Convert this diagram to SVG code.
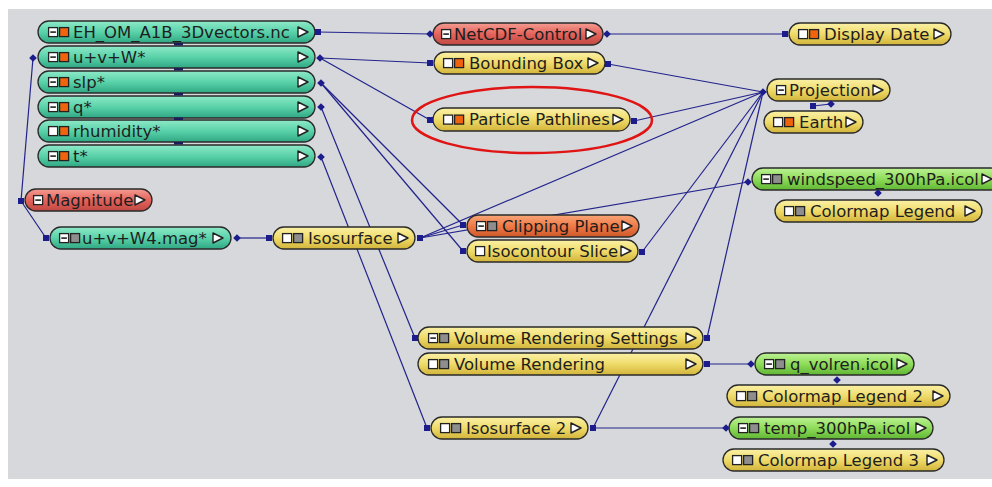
<svg xmlns="http://www.w3.org/2000/svg" xmlns:xlink="http://www.w3.org/1999/xlink" width="992" height="487" viewBox="0 0 992 487">
<defs>
<linearGradient id="gTeal" x1="0" y1="0" x2="0" y2="1"><stop offset="0" stop-color="#8ee9c9"/><stop offset="0.5" stop-color="#5ad2a9"/><stop offset="1" stop-color="#2fa783"/></linearGradient>
<linearGradient id="gYel" x1="0" y1="0" x2="0" y2="1"><stop offset="0" stop-color="#fbf1a6"/><stop offset="0.5" stop-color="#efdb6a"/><stop offset="1" stop-color="#d2b43a"/></linearGradient>
<linearGradient id="gRed" x1="0" y1="0" x2="0" y2="1"><stop offset="0" stop-color="#f49c92"/><stop offset="0.5" stop-color="#e4645c"/><stop offset="1" stop-color="#c04842"/></linearGradient>
<linearGradient id="gOra" x1="0" y1="0" x2="0" y2="1"><stop offset="0" stop-color="#f9a678"/><stop offset="0.5" stop-color="#ef7a46"/><stop offset="1" stop-color="#cf582a"/></linearGradient>
<linearGradient id="gGrn" x1="0" y1="0" x2="0" y2="1"><stop offset="0" stop-color="#bdf294"/><stop offset="0.5" stop-color="#8edc5a"/><stop offset="1" stop-color="#60b633"/></linearGradient>
<g id="icMin"><rect x="0.6" y="0.6" width="9" height="9" fill="#fff" stroke="#222" stroke-width="1.3"/><line x1="2.3" y1="5.1" x2="7.9" y2="5.1" stroke="#222" stroke-width="1.6"/></g>
<g id="icEmp"><rect x="0.6" y="0.6" width="9" height="9" fill="#fff" stroke="#222" stroke-width="1.3"/></g>
<g id="icOrg"><rect x="0.6" y="0.6" width="9" height="9" fill="#f0640e" stroke="#222" stroke-width="1.3"/></g>
<g id="icGry"><rect x="0.6" y="0.6" width="9" height="9" fill="#8e8e8e" stroke="#222" stroke-width="1.3"/></g>
<path id="tri" d="M0,-5 L10,0 L0,5 Z" fill="#fff" stroke="#222" stroke-width="1.4" stroke-linejoin="round"/>
<rect id="pSq" x="-3" y="-3" width="6" height="6" fill="#1c1c8c"/>
<path id="pDi" d="M0,-3.8 L3.8,0 L0,3.8 L-3.8,0 Z" fill="#1c1c8c"/>
</defs>
<style>
.body{stroke:#2a2a2a;stroke-width:1.3}
.teal .body{fill:url(#gTeal)}
.yel .body{fill:url(#gYel)}
.red .body{fill:url(#gRed)}
.ora .body{fill:url(#gOra)}
.grn .body{fill:url(#gGrn)}
.lbl{font-family:"DejaVu Sans","Liberation Sans",sans-serif;font-size:16.5px;fill:#1e1e1e}
.wire line{stroke:#23238c;stroke-width:1.2;fill:none}
.bar{fill:#1c1c5a}
</style>
<rect x="0" y="0" width="992" height="487" fill="#ffffff"/>
<rect x="8" y="9" width="984" height="470" fill="#d6d8db"/>

<g id="connectors" class="wire">
<line x1="318" y1="32" x2="430" y2="34"/>
<line x1="607" y1="34" x2="785" y2="34"/>
<line x1="320" y1="58" x2="430" y2="63"/>
<line x1="320" y1="58" x2="430" y2="120"/>
<line x1="321" y1="83" x2="463" y2="225"/>
<line x1="321" y1="83" x2="463" y2="251"/>
<line x1="321" y1="107" x2="415" y2="338"/>
<line x1="321" y1="157" x2="427" y2="428"/>
<line x1="33" y1="58" x2="21" y2="201"/>
<line x1="21" y1="201" x2="46" y2="238"/>
<line x1="237" y1="238" x2="269" y2="238"/>
<line x1="420" y1="238" x2="463" y2="225"/>
<line x1="420" y1="238" x2="763" y2="92"/>
<line x1="420" y1="238" x2="748" y2="182"/>
<line x1="608" y1="64" x2="763" y2="92"/>
<line x1="634" y1="121" x2="763" y2="92"/>
<line x1="642" y1="252" x2="763" y2="92"/>
<line x1="707" y1="338" x2="763" y2="92"/>
<line x1="593" y1="428" x2="763" y2="92"/>
<line x1="707" y1="364" x2="751" y2="364"/>
<line x1="593" y1="428" x2="726" y2="428"/>
<line x1="813" y1="106" x2="831" y2="104"/>
</g>

<g id="n-eh" class="teal"><rect class="body" x="38" y="21" width="277" height="22" rx="11"/><use href="#icMin" x="48" y="27"/><use href="#icOrg" x="59" y="27"/><text class="lbl" x="73" y="37.5">EH_OM_A1B_3Dvectors.nc</text><use href="#tri" x="298" y="32"/></g>
<g id="n-uvw" class="teal"><rect class="body" x="38" y="46" width="277" height="22" rx="11"/><use href="#icMin" x="48" y="52"/><use href="#icOrg" x="59" y="52"/><text class="lbl" x="73" y="62.5">u+v+W*</text><use href="#tri" x="298" y="57"/></g>
<g id="n-slp" class="teal"><rect class="body" x="38" y="71" width="277" height="22" rx="11"/><use href="#icMin" x="48" y="77"/><use href="#icOrg" x="59" y="77"/><text class="lbl" x="73" y="87.5">slp*</text><use href="#tri" x="298" y="82"/></g>
<g id="n-q" class="teal"><rect class="body" x="38" y="96" width="277" height="22" rx="11"/><use href="#icMin" x="48" y="102"/><use href="#icOrg" x="59" y="102"/><text class="lbl" x="73" y="112.5">q*</text><use href="#tri" x="298" y="107"/></g>
<g id="n-rh" class="teal"><rect class="body" x="38" y="120" width="277" height="22" rx="11"/><use href="#icEmp" x="48" y="126"/><use href="#icOrg" x="59" y="126"/><text class="lbl" x="73" y="136.5">rhumidity*</text><use href="#tri" x="298" y="131"/></g>
<g id="n-t" class="teal"><rect class="body" x="38" y="145" width="277" height="22" rx="11"/><use href="#icMin" x="48" y="151"/><use href="#icOrg" x="59" y="151"/><text class="lbl" x="73" y="161.5">t*</text><use href="#tri" x="298" y="156"/></g>
<g id="stack-bars"><rect class="bar" x="174" y="43" width="9" height="2.5"/><rect class="bar" x="174" y="68" width="9" height="2.5"/><rect class="bar" x="174" y="93" width="9" height="2.5"/><rect class="bar" x="174" y="117.5" width="9" height="2.5"/><rect class="bar" x="174" y="142" width="9" height="2.5"/></g>

<g id="n-mag" class="red"><rect class="body" x="25" y="189" width="127" height="22" rx="11"/><use href="#icMin" x="33" y="195"/><text class="lbl" x="46" y="205.5">Magnitude</text><use href="#tri" x="135" y="200"/></g>
<g id="n-uvwmag" class="teal"><rect class="body" x="50" y="227" width="181" height="22" rx="11"/><use href="#icMin" x="59" y="233"/><use href="#icGry" x="70" y="233"/><text class="lbl" x="82" y="243.5">u+v+W4.mag*</text><use href="#tri" x="213" y="238"/></g>
<g id="n-iso" class="yel"><rect class="body" x="273" y="227" width="142" height="22" rx="11"/><use href="#icEmp" x="282" y="233"/><use href="#icGry" x="293" y="233"/><text class="lbl" x="308" y="243.5">Isosurface</text><use href="#tri" x="398" y="238"/></g>

<g id="n-netcdf" class="red"><rect class="body" x="433" y="23" width="170" height="22" rx="11"/><use href="#icMin" x="441" y="29"/><text class="lbl" x="454" y="39.5">NetCDF-Control</text><use href="#tri" x="586" y="34"/></g>
<g id="n-bbox" class="yel"><rect class="body" x="434" y="52" width="171" height="22" rx="11"/><use href="#icEmp" x="443" y="58"/><use href="#icOrg" x="454" y="58"/><text class="lbl" x="469" y="68.5">Bounding Box</text><use href="#tri" x="588" y="63"/></g>
<g id="n-pp" class="yel"><rect class="body" x="433" y="108" width="197" height="23" rx="11.5"/><use href="#icEmp" x="443" y="114.5"/><use href="#icOrg" x="454" y="114.5"/><text class="lbl" x="469" y="125">Particle Pathlines</text><use href="#tri" x="613" y="119.5"/></g>
<g id="n-clip" class="ora"><rect class="body" x="467" y="215" width="172" height="22" rx="11"/><use href="#icMin" x="476" y="221"/><use href="#icGry" x="487" y="221"/><text class="lbl" x="502" y="231.5">Clipping Plane</text><use href="#tri" x="622" y="226"/></g>
<g id="n-isoc" class="yel"><rect class="body" x="467" y="240" width="171" height="22" rx="11"/><use href="#icEmp" x="475" y="246"/><text class="lbl" x="487" y="256.5">Isocontour Slice</text><use href="#tri" x="621" y="251"/></g>
<g id="n-vrs" class="yel"><rect class="body" x="418" y="327" width="285" height="22" rx="11"/><use href="#icMin" x="428" y="333"/><use href="#icGry" x="439" y="333"/><text class="lbl" x="454" y="343.5">Volume Rendering Settings</text><use href="#tri" x="686" y="338"/></g>
<g id="n-vr" class="yel"><rect class="body" x="418" y="353" width="285" height="22" rx="11"/><use href="#icEmp" x="428" y="359"/><use href="#icGry" x="439" y="359"/><text class="lbl" x="454" y="369.5">Volume Rendering</text><use href="#tri" x="686" y="364"/></g>
<g id="n-iso2" class="yel"><rect class="body" x="431" y="417" width="157" height="22" rx="11"/><use href="#icEmp" x="440" y="423"/><use href="#icGry" x="451" y="423"/><text class="lbl" x="466" y="433.5">Isosurface 2</text><use href="#tri" x="571" y="428"/></g>

<g id="n-date" class="yel"><rect class="body" x="789" y="23" width="162" height="22" rx="11"/><use href="#icEmp" x="798" y="29"/><use href="#icOrg" x="809" y="29"/><text class="lbl" x="824" y="39.5">Display Date</text><use href="#tri" x="934" y="34"/></g>
<g id="n-proj" class="yel"><rect class="body" x="767" y="79" width="123" height="22" rx="11"/><use href="#icMin" x="776" y="85"/><text class="lbl" x="789" y="95.5">Projection</text><use href="#tri" x="873" y="90"/></g>
<g id="n-earth" class="yel"><rect class="body" x="764" y="111" width="99" height="22" rx="11"/><use href="#icEmp" x="773" y="117"/><use href="#icOrg" x="784" y="117"/><text class="lbl" x="799" y="127.5">Earth</text><use href="#tri" x="846" y="122"/></g>
<g id="n-wind" class="grn"><rect class="body" x="752" y="168" width="250" height="22" rx="11"/><use href="#icMin" x="761" y="174"/><use href="#icGry" x="772" y="174"/><text class="lbl" x="787" y="184.5">windspeed_300hPa.icol</text><use href="#tri" x="982" y="179"/></g>
<g id="n-cl1" class="yel"><rect class="body" x="775" y="200" width="207" height="22" rx="11"/><use href="#icEmp" x="784" y="206"/><use href="#icGry" x="795" y="206"/><text class="lbl" x="810" y="216.5">Colormap Legend</text><use href="#tri" x="965" y="211"/></g>
<g id="n-qvol" class="grn"><rect class="body" x="755" y="353" width="159" height="22" rx="11"/><use href="#icMin" x="764" y="359"/><use href="#icGry" x="775" y="359"/><text class="lbl" x="790" y="369.5">q_volren.icol</text><use href="#tri" x="897" y="364"/></g>
<g id="n-cl2" class="yel"><rect class="body" x="727" y="385" width="223" height="22" rx="11"/><use href="#icEmp" x="736" y="391"/><use href="#icGry" x="747" y="391"/><text class="lbl" x="762" y="401.5">Colormap Legend 2</text><use href="#tri" x="933" y="396"/></g>
<g id="n-temp" class="grn"><rect class="body" x="729" y="417" width="204" height="22" rx="11"/><use href="#icMin" x="738" y="423"/><use href="#icGry" x="749" y="423"/><text class="lbl" x="764" y="433.5">temp_300hPa.icol</text><use href="#tri" x="916" y="428"/></g>
<g id="n-cl3" class="yel"><rect class="body" x="723" y="449" width="221" height="22" rx="11"/><use href="#icEmp" x="732" y="455"/><use href="#icGry" x="743" y="455"/><text class="lbl" x="758" y="465.5">Colormap Legend 3</text><use href="#tri" x="927" y="460"/></g>

<g id="ports">
<use href="#pSq" x="318" y="32"/><use href="#pDi" x="430" y="34"/>
<use href="#pDi" x="607" y="34"/><use href="#pSq" x="785" y="34"/>
<use href="#pDi" x="320" y="58"/><use href="#pSq" x="430" y="63"/><use href="#pSq" x="430" y="120"/>
<use href="#pSq" x="608" y="64"/><use href="#pSq" x="634" y="121"/>
<use href="#pDi" x="321" y="83"/><use href="#pDi" x="321" y="107"/><use href="#pDi" x="321" y="157"/>
<use href="#pSq" x="463" y="225"/><use href="#pSq" x="463" y="251"/>
<use href="#pDi" x="33" y="58"/><use href="#pSq" x="21" y="201"/>
<use href="#pSq" x="46" y="238"/><use href="#pDi" x="237" y="238"/>
<use href="#pSq" x="269" y="238"/><use href="#pSq" x="420" y="238"/>
<use href="#pDi" x="763" y="92"/><use href="#pDi" x="748" y="182"/>
<use href="#pSq" x="642" y="252"/><use href="#pSq" x="415" y="338"/><use href="#pSq" x="707" y="338"/>
<use href="#pSq" x="707" y="364"/><use href="#pDi" x="751" y="364"/>
<use href="#pSq" x="427" y="428"/><use href="#pSq" x="593" y="428"/><use href="#pDi" x="726" y="428"/>
<use href="#pSq" x="813" y="106"/><use href="#pDi" x="831" y="104"/>
<use href="#pDi" x="878" y="193"/>
<use href="#pDi" x="837" y="380"/>
<use href="#pDi" x="833" y="444"/>
</g>

<ellipse id="highlight" cx="532" cy="120" rx="120" ry="33" fill="none" stroke="#e01414" stroke-width="2.5"/>
</svg>
